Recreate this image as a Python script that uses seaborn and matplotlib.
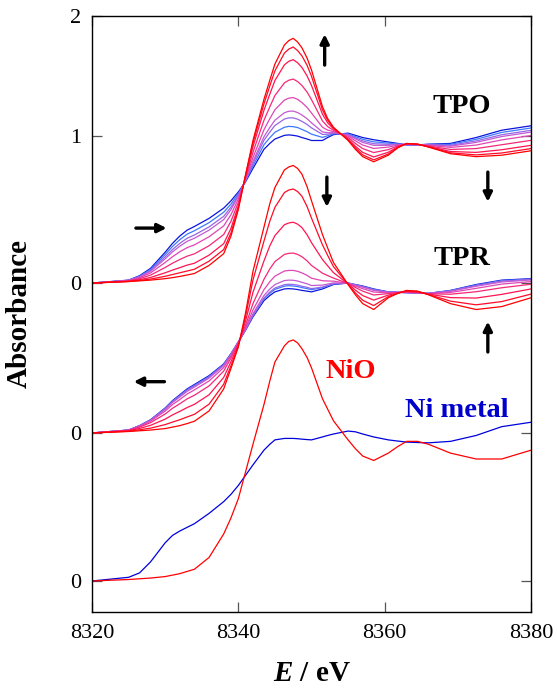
import matplotlib
matplotlib.use("Agg")
import matplotlib.pyplot as plt
import numpy as np
import pandas as pd
import seaborn as sns

# ---------------- data ----------------
energy = [8320, 8325, 8326.5, 8328, 8330, 8331, 8332, 8333, 8334, 8336, 8338, 8339,
          8340, 8341, 8342, 8343.5, 8344.3, 8345, 8346.3, 8346.9, 8347.5, 8348.1,
          8348.7, 8349.4, 8350, 8351.5, 8352.2, 8353, 8355, 8356, 8357, 8358.5,
          8360.5, 8361.8, 8363, 8364.5, 8366, 8369, 8372.5, 8376, 8380]

# TPO series (red -> blue)
tpo_1 = [0, .01, .015, .02, .03, .037, .045, .055, .065, .12, .20, .32, .50, .74, .97, 1.25, 1.38, 1.49, 1.62, 1.65, 1.665, 1.64, 1.60, 1.53, 1.45, 1.20, 1.12, 1.06, .97, .91, .86, .825, .87, .92, .95, .945, .925, .88, .86, .87, .90]
tpo_2 = [0, .011, .018, .027, .046, .058, .070, .082, .094, .149, .228, .342, .511, .736, .953, 1.219, 1.341, 1.444, 1.565, 1.592, 1.606, 1.582, 1.545, 1.481, 1.407, 1.179, 1.108, 1.056, .974, .919, .872, .838, .878, .923, .949, .945, .927, .886, .872, .885, .915]
tpo_3 = [0, .012, .023, .038, .070, .088, .105, .122, .135, .190, .268, .373, .526, .729, .928, 1.175, 1.285, 1.378, 1.485, 1.509, 1.520, 1.499, 1.466, 1.409, 1.344, 1.149, 1.091, 1.049, .981, .931, .889, .858, .890, .927, .948, .944, .929, .895, .889, .907, .937]
tpo_4 = [0, .014, .030, .054, .106, .135, .160, .183, .199, .254, .330, .421, .550, .719, .890, 1.107, 1.199, 1.276, 1.362, 1.380, 1.388, 1.371, 1.344, 1.299, 1.248, 1.103, 1.065, 1.039, .991, .950, .915, .888, .908, .933, .946, .943, .933, .909, .915, .941, .971]
tpo_5 = [0, .016, .036, .069, .140, .179, .213, .241, .260, .315, .389, .466, .573, .710, .854, 1.043, 1.118, 1.179, 1.245, 1.258, 1.262, 1.250, 1.228, 1.195, 1.157, 1.060, 1.041, 1.030, 1.000, .968, .939, .916, .925, .938, .944, .942, .937, .923, .939, .974, 1.004]
tpo_6 = [0, .018, .041, .080, .165, .212, .251, .284, .305, .360, .432, .500, .590, .703, .828, .995, 1.058, 1.108, 1.159, 1.169, 1.170, 1.160, 1.143, 1.118, 1.090, 1.028, 1.023, 1.023, 1.007, .981, .957, .937, .937, .942, .943, .941, .940, .932, .957, .997, 1.027]
tpo_7 = [0, .018, .044, .086, .178, .228, .270, .305, .327, .382, .454, .517, .598, .699, .814, .971, 1.027, 1.072, 1.116, 1.124, 1.124, 1.115, 1.100, 1.079, 1.056, 1.011, 1.013, 1.019, 1.011, .988, .967, .948, .944, .945, .942, .941, .941, .937, .967, 1.009, 1.039]
tpo_8 = [0, .019, .047, .093, .194, .249, .295, .333, .356, .411, .482, .538, .609, .695, .797, .941, .989, 1.026, 1.060, 1.066, 1.064, 1.058, 1.045, 1.030, 1.013, .991, 1.002, 1.015, 1.015, .996, .978, .961, .952, .947, .941, .940, .943, .944, .978, 1.025, 1.055]
tpo_9 = [0, .02, .05, .10, .21, .27, .32, .36, .385, .44, .51, .56, .62, .69, .78, .91, .95, .98, 1.005, 1.008, 1.005, 1.0, .99, .98, .97, .97, .99, 1.01, 1.02, 1.005, .99, .975, .96, .95, .94, .94, .945, .95, .99, 1.04, 1.07]

# TPR series (red -> blue)
tpr_1 = [0, .01, .015, .02, .03, .04, .05, .064, .08, .15, .30, .44, .585, .82, 1.10, 1.40, 1.56, 1.67, 1.79, 1.81, 1.82, 1.80, 1.76, 1.675, 1.58, 1.35, 1.26, 1.16, 1.01, .94, .88, .84, .92, .95, .97, .965, .94, .88, .84, .86, .92]
tpr_2 = [0, .012, .022, .033, .057, .074, .090, .109, .127, .196, .332, .459, .592, .797, 1.041, 1.305, 1.441, 1.535, 1.636, 1.653, 1.660, 1.643, 1.610, 1.540, 1.462, 1.280, 1.209, 1.132, 1.012, .953, .903, .867, .928, .951, .967, .963, .942, .897, .872, .894, .945]
tpr_3 = [0, .015, .031, .052, .094, .123, .147, .173, .195, .260, .378, .486, .601, .765, .957, 1.170, 1.273, 1.343, 1.417, 1.429, 1.434, 1.421, 1.397, 1.348, 1.295, 1.180, 1.138, 1.091, 1.015, .972, .935, .904, .938, .953, .963, .959, .945, .921, .918, .943, .980]
tpr_4 = [0, .017, .040, .070, .129, .168, .199, .232, .257, .320, .421, .511, .610, .735, .880, 1.045, 1.116, 1.166, 1.215, 1.222, 1.224, 1.215, 1.199, 1.171, 1.140, 1.087, 1.071, 1.054, 1.017, .990, .965, .939, .948, .955, .959, .956, .947, .944, .961, .988, 1.012]
tpr_5 = [0, .019, .045, .080, .149, .193, .228, .265, .293, .354, .445, .525, .615, .718, .837, .975, 1.029, 1.067, 1.102, 1.106, 1.106, 1.100, 1.089, 1.072, 1.053, 1.036, 1.034, 1.033, 1.018, .999, .982, .959, .954, .956, .957, .954, .948, .956, .984, 1.013, 1.030]
tpr_6 = [0, .019, .048, .085, .160, .207, .245, .283, .312, .373, .458, .533, .618, .708, .812, .935, .979, 1.010, 1.037, 1.040, 1.039, 1.034, 1.025, 1.015, 1.003, 1.006, 1.013, 1.021, 1.019, 1.005, .992, .970, .957, .957, .956, .953, .949, .964, .998, 1.027, 1.041]
tpr_7 = [0, .020, .049, .087, .165, .214, .252, .292, .321, .381, .464, .536, .619, .704, .801, .918, .958, .986, 1.009, 1.012, 1.010, 1.006, .998, .991, .982, .993, 1.004, 1.015, 1.020, 1.007, .996, .975, .959, .957, .955, .952, .950, .967, 1.004, 1.034, 1.045]
tpr_8 = [0, .020, .049, .088, .167, .216, .255, .294, .324, .384, .466, .538, .619, .703, .797, .912, .950, .977, .999, 1.002, 1.000, .996, .989, .982, .975, .989, 1.000, 1.014, 1.020, 1.008, .997, .977, .959, .957, .955, .952, .950, .968, 1.006, 1.036, 1.047]
tpr_9 = [0, .02, .05, .09, .17, .22, .26, .30, .33, .39, .47, .54, .62, .70, .79, .90, .935, .96, .98, .982, .98, .976, .97, .965, .96, .98, .994, 1.01, 1.02, 1.01, 1.00, .98, .96, .957, .955, .952, .95, .97, 1.01, 1.04, 1.05]

# reference spectra
nio = [0, .01, .015, .02, .03, .04, .05, .065, .08, .16, .32, .43, .56, .745, .93, 1.20, 1.36, 1.49, 1.60, 1.63, 1.64, 1.62, 1.58, 1.52, 1.45, 1.24, 1.17, 1.09, .96, .90, .85, .82, .87, .915, .95, .95, .93, .87, .83, .83, .89]
ni_metal = [0, .025, .055, .13, .26, .31, .34, .365, .39, .46, .54, .59, .65, .72, .79, .89, .93, .96, .97, .97, .97, .968, .965, .962, .96, .98, .99, 1.00, 1.02, 1.015, 1.00, .98, .96, .952, .945, .942, .94, .95, .99, 1.05, 1.08]

x_ticks = [8320, 8340, 8360, 8380]
y_tick_labels = ["0", "0", "0", "1", "2"]

# ---------------- style / layout ----------------
tpo_curves = [tpo_1, tpo_2, tpo_3, tpo_4, tpo_5, tpo_6, tpo_7, tpo_8, tpo_9]
tpr_curves = [tpr_1, tpr_2, tpr_3, tpr_4, tpr_5, tpr_6, tpr_7, tpr_8, tpr_9]
colors = ['#ff0000', '#ff0a28', '#ff1450', '#f52878', '#e046b4', '#c25ad2',
          '#9466e6', '#3c78ff', '#0a14dc']
off_tpr = 1.007
off_tpo = 2.027

sns.set_theme(style="ticks")
plt.rcParams['font.family'] = ['Liberation Serif', 'DejaVu Serif']
plt.rcParams['text.color'] = 'black'
plt.rcParams['axes.labelcolor'] = 'black'
plt.rcParams['mathtext.fontset'] = 'custom'
plt.rcParams['mathtext.it'] = 'Liberation Serif:style=italic:weight=bold'
plt.rcParams['mathtext.rm'] = 'Liberation Serif:weight=bold'

W, H = 557, 691
fig = plt.figure(figsize=(W / 100, H / 100), dpi=100)
ax = fig.add_axes([92 / W, 1 - 612 / H, 439 / W, 596 / H])

rows = []
for panel, curves, off in [("TPO", tpo_curves, off_tpo), ("TPR", tpr_curves, off_tpr)]:
    for i, c in enumerate(curves):
        for e, a in zip(energy, c):
            rows.append({"E": e, "A": a + off, "key": f"{panel}{i}"})
df = pd.DataFrame(rows)
palette = {f"{p}{i}": colors[i] for p in ("TPO", "TPR") for i in range(9)}
hue_order = [f"{p}{i}" for p in ("TPO", "TPR") for i in range(8, -1, -1)]
sns.lineplot(data=df, x="E", y="A", hue="key", hue_order=hue_order, palette=palette,
             estimator=None, sort=False, legend=False, lw=0.9, ax=ax,
             solid_joinstyle='round')

sns.lineplot(x=energy, y=ni_metal, color='#0000dd', lw=0.9, ax=ax, solid_joinstyle='round')
sns.lineplot(x=energy, y=nio, color='#ff0000', lw=0.9, ax=ax, solid_joinstyle='round')

ax.set_xlim(8320, 8380)
ylo, yhi = -0.211, 3.844
ax.set_ylim(ylo, yhi)
ax.set_xticks(x_ticks)
ax.set_xticklabels([str(t) for t in x_ticks])
ax.set_yticks([0, off_tpr, off_tpo, off_tpo + 1, yhi])
ax.set_yticklabels(y_tick_labels)
ax.tick_params(direction='in', top=True, right=True, length=7, width=0.9,
               color='#555555', labelcolor='black', labelsize=16)
ax.tick_params(axis='y', pad=8)
ax.tick_params(axis='x', pad=9)
for s in ax.spines.values():
    s.set_visible(True)
    s.set_linewidth(1.0)
    s.set_color('black')

ax.set_xlabel(r"$E$ / eV", fontsize=21, fontweight='bold', labelpad=12, color='black')
ax.set_ylabel("Absorbance", fontsize=21, fontweight='bold', color='black')
ax.yaxis.set_label_coords(-0.134, 0.5)

ax.text(8370.6, 3.184, "TPO", fontsize=20.5, fontweight='bold', color='black', ha='center', va='baseline')
ax.text(8370.6, 2.150, "TPR", fontsize=20.5, fontweight='bold', color='black', ha='center', va='baseline')
ax.text(8355.4, 1.379, "NiO", fontsize=20.5, fontweight='bold', color='#ff0000', ha='center', va='baseline')
ax.text(8369.9, 1.118, "Ni metal", fontsize=20.5, fontweight='bold', color='#0000cc', ha='center', va='baseline')

arrow_kw = dict(arrowstyle='-|>', lw=2.4, color='black', mutation_scale=13, shrinkA=0, shrinkB=0)
arrows = [((8326.0, 2.401), (8330.2, 2.401)),   # right, TPO pre-edge
          ((8351.8, 3.51), (8351.8, 3.72)),     # up, TPO peak
          ((8352.1, 2.748), (8352.1, 2.545)),   # down, TPR peak
          ((8374.1, 2.782), (8374.1, 2.58)),    # down, TPO tail
          ((8374.1, 1.558), (8374.1, 1.765)),   # up, TPR tail
          ((8329.9, 1.356), (8325.7, 1.356))]   # left, TPR pre-edge
for (x0, y0), (x1, y1) in arrows:
    ax.annotate("", xy=(x1, y1), xytext=(x0, y0), arrowprops=arrow_kw)

fig.savefig("out.png", dpi=100)
